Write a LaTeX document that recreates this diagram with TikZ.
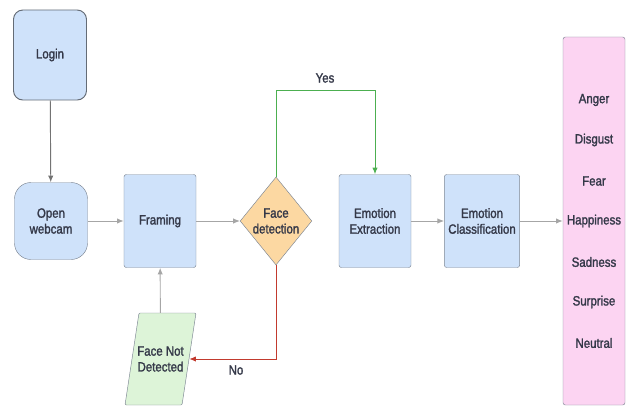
\documentclass[tikz,border=0pt]{standalone}
\usepackage{fontspec}
\setmainfont{Liberation Sans}[FakeStretch=0.85, FakeBold=1.6]
\usetikzlibrary{shapes.geometric,arrows.meta}
\definecolor{boxblue}{HTML}{CFE2FA}
\definecolor{boxline}{HTML}{7E8794}
\definecolor{diafill}{HTML}{FCD8A2}
\definecolor{pinkfill}{HTML}{FCD4F2}
\definecolor{greenfill}{HTML}{DDF4D8}
\definecolor{yesgreen}{HTML}{4CAF50}
\definecolor{nored}{HTML}{C23A2E}
\definecolor{txt}{HTML}{343848}
\begin{document}
\begin{tikzpicture}[x=0.03cm, y=-0.03cm,
    every node/.style={font=\fontsize{11.5}{13.5}\selectfont, text=txt, align=center},
    stepbox/.style={draw=boxline, fill=boxblue, rounded corners=2pt, minimum width=2.16cm, minimum height=2.79cm},
    decision/.style={diamond, draw=boxline, fill=diafill, minimum width=2.1cm, minimum height=2.64cm, inner sep=0pt},
    flow/.style={draw=gray!70, -{Latex[length=2mm,width=1.6mm]}, thick}]
    \useasboundingbox (0, 0) rectangle (638, 416);
    \node (login) [draw=boxline!80!black, fill=boxblue, rounded corners=8pt, minimum width=2.19cm, minimum height=2.7cm, thick] at (50, 55) {Login};
    \node (webcam) [draw=boxline, fill=boxblue, rounded corners=14pt, minimum width=2.19cm, minimum height=2.31cm] at (51, 221) {Open\\webcam};
    \node (framing) [stepbox] at (160, 221) {Framing};
    \node (facedet) [decision] at (276, 221) {Face\\detection};
    \node (extract) [stepbox] at (375, 221) {Emotion\\Extraction};
    \node (classify) [stepbox] at (482, 221) {Emotion\\Classification};
    \node (emotions) [draw=boxline, fill=pinkfill, rounded corners=2pt, minimum width=1.86cm, minimum height=11.04cm] at (594, 221) {};
    % slanted box for the failure case
    \filldraw [draw=boxline, fill=greenfill, rounded corners=1pt] (125, 405) -- (139, 313) -- (196, 313) -- (182, 405) -- cycle;
    \node (notface) [minimum width=1.71cm, minimum height=2.76cm, inner sep=0pt] at (160.5, 359) {Face Not\\Detected};
    % emotion labels
    \node (anger) at (594, 100) {Anger};
    \node (disgust) at (594, 140) {Disgust};
    \node (fear) at (594, 181) {Fear};
    \node (happy) at (594, 221) {Happiness};
    \node (sad) at (594, 262) {Sadness};
    \node (surprise) at (594, 302) {Surprise};
    \node (neutral) at (594, 343) {Neutral};
    % connectors
    \draw [flow, draw=gray!90!black] (login) -- (webcam);
    \draw [flow] (webcam) -- (framing);
    \draw [flow] (framing) -- (facedet);
    \draw [flow] (extract) -- (classify);
    \draw [flow] (classify) -- (emotions);
    \draw [flow] (notface) -- (framing);
    \draw [flow, draw=yesgreen] (facedet.north) |- (375, 90) -- (extract.north);
    \draw [flow, draw=nored] (facedet.south) |- (notface.east);
    \node (yes) at (325, 78) {Yes};
    \node (no) at (236, 370) {No};
  \end{tikzpicture}
\end{document}
